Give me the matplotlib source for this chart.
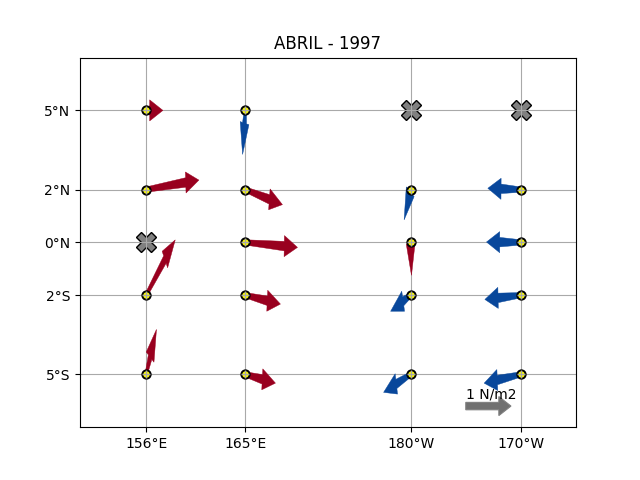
import matplotlib
matplotlib.use("Agg")
import matplotlib.pyplot as plt
from matplotlib.patches import Polygon
import numpy as np

# station positions (lon in 0-360)
lon = [156, 165, 180, 190,
       156, 165, 180, 190,
       156, 165, 180, 190,
       156, 165, 180, 190,
       156, 165, 180, 190]
lat = [5, 5, 5, 5,
       2, 2, 2, 2,
       0, 0, 0, 0,
       -2, -2, -2, -2,
       -5, -5, -5, -5]

# wind stress, N/m2 (nan = no data at that buoy)
taux = [0.107, -0.024, np.nan, np.nan,
        1.197, 0.727, -0.014, -0.600,
        np.nan, 1.177, 0.001, -0.640,
        0.567, 0.663, -0.227, -0.690,
        0.120, 0.513, -0.433, -0.713]
tauy = [0.000, -0.161, np.nan, np.nan,
        0.090, -0.123, -0.027, 0.010,
        np.nan, -0.047, -0.017, 0.003,
        0.450, -0.070, -0.076, -0.034,
        0.218, -0.062, -0.120, -0.071]

xticks = [156, 165, 180, 190]
xticklabels = ['156°E', '165°E', '180°W', '170°W']
yticks = [-5, -2, 0, 2, 5]
yticklabels = ['5°S', '2°S', '0°N', '2°N', '5°N']

arrow_scale = 3
head_half = 0.4
head_length = 1.2
tail_half = 0.1
neck_half = 0.18
red = '#99001F'
blue = '#08479B'


# arrow built in data units, so it stretches with the axes; shaft narrows to the tail
def tapered_arrow(ax, x, y, u, v, color):
    d = np.array([u, v]) * arrow_scale
    size = np.hypot(*d)
    along = d / size
    perp = np.array([-along[1], along[0]])
    tail = np.array([x, y])
    neck = tail + d
    tip = neck + along * head_length
    pts = [tail + perp * tail_half, neck + perp * neck_half, neck + perp * head_half,
           tip, neck - perp * head_half, neck - perp * neck_half, tail - perp * tail_half]
    ax.add_patch(Polygon(pts, closed=True, facecolor=color, edgecolor=color,
                         linewidth=0.3, zorder=1.6))


fig, ax = plt.subplots()

for x, y, u, v in zip(lon, lat, taux, tauy):
    if np.isnan(u):
        ax.plot(x, y, marker='X', color='gray', markeredgecolor='black',
                markersize=15, linestyle='none', zorder=1)
        continue
    tapered_arrow(ax, x, y, u, v, red if u > 0 else blue)
    ax.plot(x, y, marker='o', color='yellow', markeredgecolor='black',
            markersize=6, markeredgewidth=1.4, linestyle='none', zorder=1.7)
    ax.plot(x, y, marker='+', color='darkgrey', markersize=6, markeredgewidth=1,
            linestyle='none', zorder=1.8)

# reference arrow
ax.arrow(185, -6.2, 1 * arrow_scale, 0,
         width=0.28, head_width=0.72, head_length=1.1,
         facecolor='#707070', edgecolor='#7f7f7f', linewidth=0.8, zorder=3)
ax.text(185, -5.9, '1 N/m2', fontsize=10, zorder=4)

ax.set_xlim(150, 195)
ax.set_ylim(-7, 7)
ax.set_xticks(xticks)
ax.set_xticklabels(xticklabels)
ax.set_yticks(yticks)
ax.set_yticklabels(yticklabels)
ax.grid(color='darkgrey')
ax.set_title('ABRIL - 1997')

fig.savefig('out.png', dpi=100)
